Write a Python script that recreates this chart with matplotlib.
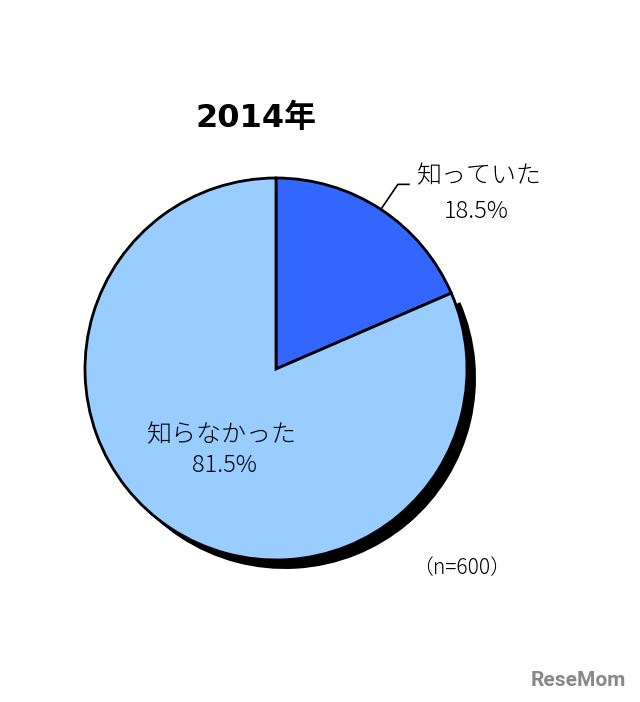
import numpy as np
import matplotlib
matplotlib.use("Agg")
import matplotlib.pyplot as plt

plt.rcParams['font.family'] = ['Noto Sans CJK JP', 'DejaVu Sans']

title = "2014年"
labels = ["知っていた", "知らなかった"]
values = [18.5, 81.5]
colors = ["#3366FF", "#99CCFF"]
note = "（n=600）"

W, H = 640, 702
fig = plt.figure(figsize=(W / 100, H / 100), dpi=100)
ax = fig.add_axes([0, 0, 1, 1])

cx, cy, r = 276, H - 369, 191

# shadow of the light slice only
ax.pie(values, colors=["none", "black"], startangle=90, counterclock=False,
       radius=r, center=(cx + 9, cy - 9),
       wedgeprops=dict(linewidth=0), frame=True)
ax.pie(values, colors=colors, startangle=90, counterclock=False,
       radius=r, center=(cx, cy),
       wedgeprops=dict(edgecolor="black", linewidth=2.0), frame=True)
ax.set_xlim(0, W)
ax.set_ylim(0, H)
ax.set_aspect('equal')
ax.axis('off')

# leader line for small slice
ang = np.deg2rad(90 - values[0] / sum(values) * 360 / 2)
p0 = (cx + r * np.cos(ang), cy + r * np.sin(ang))
ax.plot([p0[0], p0[0] + 17, p0[0] + 28], [p0[1], p0[1] + 25, p0[1] + 25],
        color="black", lw=1.2)

ax.text(479, H - 176, labels[0], ha="center", va="center", fontsize=18,
        fontweight="light")
ax.text(476, H - 212, f"{values[0]}%", ha="center", va="center", fontsize=17,
        fontweight="light")
ax.text(222, H - 435, labels[1], ha="center", va="center", fontsize=18,
        fontweight="light")
ax.text(224, H - 466, f"{values[1]}%", ha="center", va="center", fontsize=17,
        fontweight="light")

ax.text(256, H - 118, title, ha="center", va="center", fontsize=23,
        fontweight="bold", family=["DejaVu Sans", "Noto Sans CJK JP"])
ax.text(462, H - 568, note, ha="center", va="center", fontsize=15,
        fontweight="light")

ax.text(578, H - 680, "ReseMom", ha="center", va="center", fontsize=15,
        fontweight="bold", color="#888888", family=["Roboto", "DejaVu Sans"])

fig.savefig("out.png", dpi=100)
